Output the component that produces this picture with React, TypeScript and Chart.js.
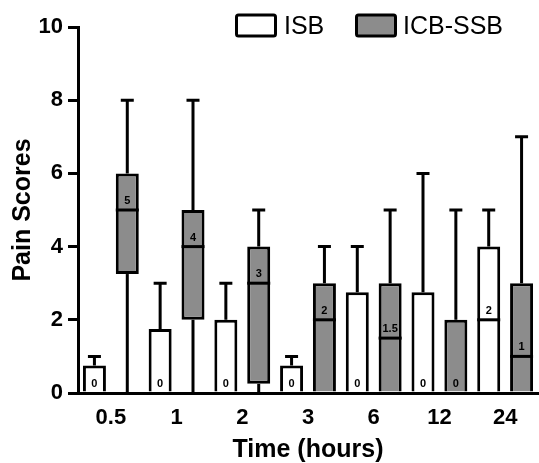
import React, { useEffect, useRef } from "react";
import { Chart, registerables } from "chart.js";

Chart.register(...registerables);

const categories = ["0.5", "1", "2", "3", "6", "12", "24"];

const isbMin = [0, 0, 0, 0, 0, 0, 0];
const isbQ1 = [0, 0, 0, 0, 0, 0, 0];
const isbMedian = [0, 0, 0, 0, 0, 0, 2];
const isbQ3 = [0.75, 1.75, 2, 0.75, 2.75, 2.75, 4];
const isbMax = [1, 3, 3, 1, 4, 6, 5];

const icbMin = [0, 0, 0, 0, 0, 0, 0];
const icbQ1 = [3.25, 2, 0.25, 0, 0, 0, 0];
const icbMedian = [5, 4, 3, 2, 1.5, 0, 1];
const icbQ3 = [6, 5, 4, 3, 3, 2, 3];
const icbMax = [8, 8, 5, 4, 5, 5, 7];

const yTicks = [0, 2, 4, 6, 8, 10];

const GRAY = "#8c8c8c";
const FONT = "'Liberation Sans', Arial, Helvetica, sans-serif";

const boxSets = [
  { min: isbMin, q1: isbQ1, med: isbMedian, q3: isbQ3, max: isbMax },
  { min: icbMin, q1: icbQ1, med: icbMedian, q3: icbQ3, max: icbMax },
];

const boxPlugin = {
  id: "boxExtras",
  afterDatasetsDraw(chart: any) {
    const ctx = chart.ctx;
    const ys = chart.scales.y;
    boxSets.forEach((s, di) => {
      const meta = chart.getDatasetMeta(di);
      meta.data.forEach((bar: any, i: number) => {
        const x = bar.x;
        const w = bar.width;
        const yQ1 = ys.getPixelForValue(s.q1[i]);
        const yQ3 = ys.getPixelForValue(s.q3[i]);
        const yMax = ys.getPixelForValue(s.max[i]);
        const yMin = ys.getPixelForValue(s.min[i]);
        const yMed = ys.getPixelForValue(s.med[i]);
        ctx.save();
        ctx.strokeStyle = "#000";
        ctx.lineWidth = 3;
        ctx.lineCap = "butt";
        if (s.max[i] > s.q3[i]) {
          ctx.beginPath();
          ctx.moveTo(x, yQ3);
          ctx.lineTo(x, yMax);
          ctx.moveTo(x - 6.5, yMax);
          ctx.lineTo(x + 6.5, yMax);
          ctx.stroke();
        }
        if (s.q1[i] > s.min[i]) {
          ctx.beginPath();
          ctx.moveTo(x, yQ1);
          ctx.lineTo(x, yMin);
          ctx.stroke();
        }
        if (s.med[i] > s.q1[i]) {
          ctx.beginPath();
          ctx.moveTo(x - w / 2, yMed);
          ctx.lineTo(x + w / 2, yMed);
          ctx.stroke();
        }
        ctx.fillStyle = "#000";
        ctx.font = `bold 11px ${FONT}`;
        ctx.textAlign = "center";
        ctx.textBaseline = "middle";
        ctx.fillText(String(s.med[i]), x, yMed - 9);
        ctx.restore();
      });
    });
  },
  afterDraw(chart: any) {
    const ctx = chart.ctx;
    ctx.save();
    ctx.lineWidth = 3;
    ctx.strokeStyle = "#000";
    const drawBox = (x: number, fill: string) => {
      ctx.beginPath();
      (ctx as any).roundRect(x, 15, 39, 21, 2);
      ctx.fillStyle = fill;
      ctx.fill();
      ctx.stroke();
    };
    drawBox(236.5, "#fff");
    drawBox(356.5, GRAY);
    ctx.fillStyle = "#000";
    ctx.font = `25px ${FONT}`;
    ctx.textAlign = "left";
    ctx.textBaseline = "middle";
    ctx.fillText("ISB", 284, 27);
    ctx.fillText("ICB-SSB", 403, 27);
    ctx.restore();
  },
};

export default function App() {
  const ref = useRef<HTMLCanvasElement | null>(null);
  useEffect(() => {
    if (!ref.current) return;
    const chart = new Chart(ref.current, {
      type: "bar",
      data: {
        labels: categories,
        datasets: [
          {
            label: "ISB",
            data: isbQ1.map((v, i) => [v, isbQ3[i]]) as any,
            backgroundColor: "#fff",
            borderColor: "#000",
            borderWidth: 3,
            borderSkipped: ((c: any) => (isbQ1[c.dataIndex] === 0 ? "start" : false)) as any,
            categoryPercentage: 1.0,
            barPercentage: 0.7,
          },
          {
            label: "ICB-SSB",
            data: icbQ1.map((v, i) => [v, icbQ3[i]]) as any,
            backgroundColor: GRAY,
            borderColor: "#000",
            borderWidth: 3,
            borderSkipped: ((c: any) => (icbQ1[c.dataIndex] === 0 ? "start" : false)) as any,
            categoryPercentage: 1.0,
            barPercentage: 0.7,
          },
        ],
      },
      options: {
        responsive: false,
        animation: false,
        layout: { padding: { top: 27, right: 1, left: 0, bottom: 0 } },
        plugins: {
          legend: { display: false },
          tooltip: { enabled: false },
        },
        scales: {
          x: {
            grid: { display: true, drawOnChartArea: false, drawTicks: false },
            border: { display: true, color: "#000", width: 3 },
            ticks: {
              color: "#000",
              padding: 12,
              font: { family: FONT, size: 22, weight: "bold" },
            },
            title: {
              display: true,
              text: "Time (hours)",
              color: "#000",
              font: { family: FONT, size: 25, weight: "bold" },
              padding: { top: 0, bottom: -2 },
            },
            afterFit(scale: any) {
              scale.height = 70;
            },
          },
          y: {
            min: 0,
            max: 10,
            afterBuildTicks(scale: any) {
              scale.ticks = yTicks.map((v) => ({ value: v }));
            },
            grid: {
              display: true,
              drawOnChartArea: false,
              drawTicks: true,
              tickLength: 10,
              color: "#000",
              lineWidth: 3,
            },
            border: { display: true, color: "#000", width: 3 },
            ticks: {
              color: "#000",
              padding: 5,
              font: { family: FONT, size: 22, weight: "bold" },
            },
            title: {
              display: true,
              text: "Pain Scores",
              color: "#000",
              font: { family: FONT, size: 25, weight: "bold" },
              padding: { top: 8, bottom: 0 },
            },
            afterFit(scale: any) {
              scale.width = 78;
            },
          },
        },
      },
      plugins: [boxPlugin],
    });
    return () => chart.destroy();
  }, []);
  return (
    <div style={{ position: "fixed", left: 0, top: 0, width: 539, height: 463, background: "#fff" }}>
      <canvas ref={ref} width={539} height={463} />
    </div>
  );
}
